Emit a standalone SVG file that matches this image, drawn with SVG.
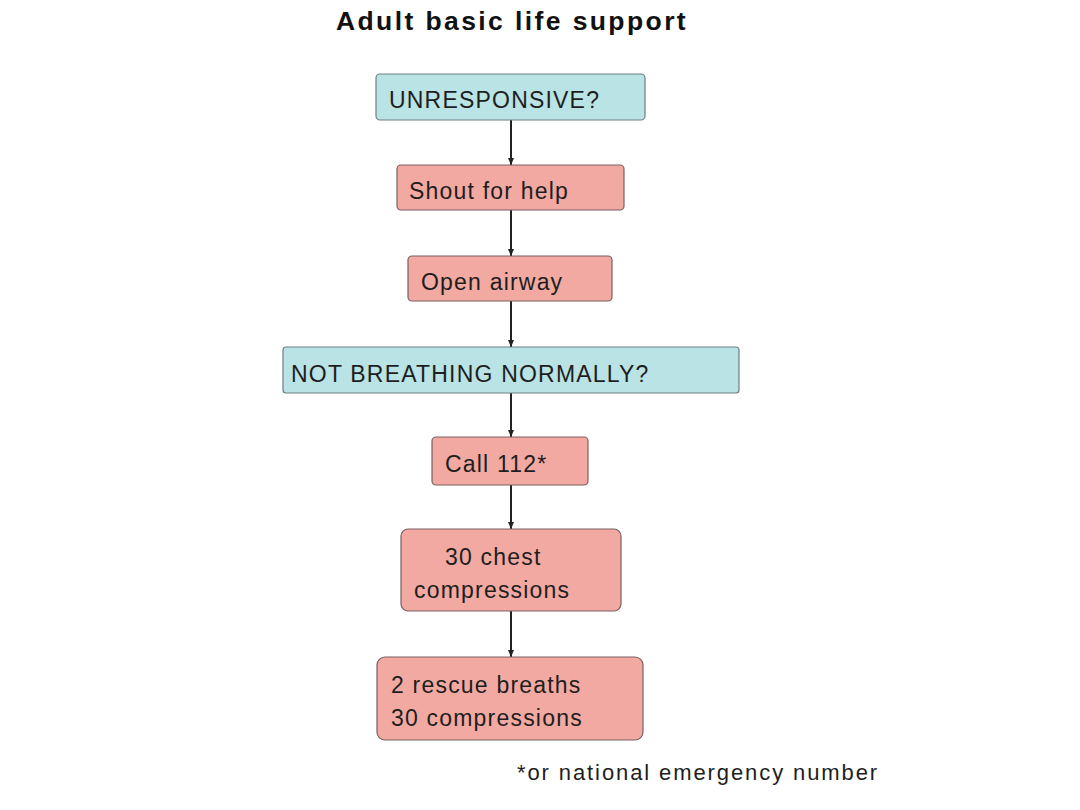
<svg xmlns="http://www.w3.org/2000/svg" width="1080" height="810" viewBox="0 0 1080 810">
<style>
.q{fill:#b9e3e4;stroke:#6f7f80;stroke-width:1.2}
.a{fill:#f2a9a1;stroke:#7a6060;stroke-width:1.2}
.t{font-family:"Liberation Sans",Arial,sans-serif;font-size:23px;letter-spacing:1.2px;fill:#1e1e1e}
.c{stroke:#222;stroke-width:2;fill:none;marker-end:url(#ah)}
</style>
<defs>
<marker id="ah" markerWidth="8" markerHeight="8" refX="7" refY="4" orient="auto" markerUnits="userSpaceOnUse">
<path d="M0,1 L7,4 L0,7 Z" fill="#222"/>
</marker>
</defs>
<rect width="1080" height="810" fill="#fff"/>
<text x="336" y="30" style="font-family:'Liberation Sans',Arial,sans-serif;font-size:26.5px;letter-spacing:2.4px;font-weight:bold;fill:#111">Adult basic life support</text>
<g id="connectors">
<line class="c" x1="511" y1="120" x2="511" y2="165"/>
<line class="c" x1="511" y1="210" x2="511" y2="256"/>
<line class="c" x1="511" y1="301" x2="511" y2="347"/>
<line class="c" x1="511" y1="393" x2="511" y2="437"/>
<line class="c" x1="511" y1="485" x2="511" y2="529"/>
<line class="c" x1="511" y1="611" x2="511" y2="657"/>
</g>
<g id="n1"><rect class="q" x="376" y="74" width="269" height="46" rx="4"/><text class="t" x="389" y="108">UNRESPONSIVE?</text></g>
<g id="n2"><rect class="a" x="397" y="165" width="227" height="45" rx="4"/><text class="t" x="409" y="199">Shout for help</text></g>
<g id="n3"><rect class="a" x="408" y="256" width="204" height="45" rx="4"/><text class="t" x="421" y="290">Open airway</text></g>
<g id="n4"><rect class="q" x="283" y="347" width="456" height="46" rx="3"/><text class="t" x="291" y="382">NOT BREATHING NORMALLY?</text></g>
<g id="n5"><rect class="a" x="432" y="437" width="156" height="48" rx="4"/><text class="t" x="445" y="472">Call 112*</text></g>
<g id="n6"><rect class="a" x="401" y="529" width="220" height="82" rx="7"/><text class="t" x="445" y="565">30 chest</text><text class="t" x="414" y="598">compressions</text></g>
<g id="n7"><rect class="a" x="377" y="657" width="266" height="83" rx="8"/><text class="t" x="391" y="693">2 rescue breaths</text><text class="t" x="391" y="726">30 compressions</text></g>
<text class="t" x="517" y="780" style="font-size:22px;letter-spacing:1.9px">*or national emergency number</text>
</svg>
